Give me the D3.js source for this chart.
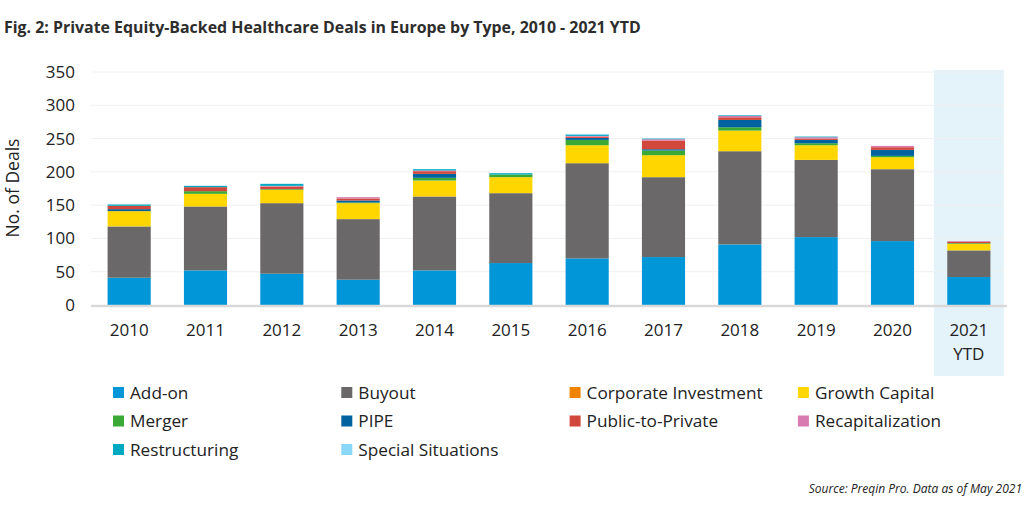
<!DOCTYPE html>
<html>
<head>
<meta charset="utf-8">
<script src="https://cdn.jsdelivr.net/npm/d3@7"></script>
<style>
  body { margin: 0; background: #fff; }
  svg { font-family: "Open Sans", sans-serif; }
</style>
</head>
<body>
<svg id="chart" width="1024" height="512"></svg>
<script>
// data
const years = ["2010", "2011", "2012", "2013", "2014", "2015", "2016", "2017", "2018", "2019", "2020", "2021 YTD"];
const types = ["Add-on", "Buyout", "Corporate Investment", "Growth Capital", "Merger", "PIPE",
    "Public-to-Private", "Recapitalization", "Restructuring", "Special Situations"];
const colors = ["#0096d8", "#6a6868", "#f08300", "#ffd600", "#3aa935", "#00629f",
    "#d2473b", "#d77bb0", "#00a9c2", "#8ad8f8"];

const addOn        = [41, 52, 47, 38, 52, 63, 70, 72, 91, 102, 96, 42];
const buyout       = [77, 96, 106, 91, 111, 105, 143, 120, 140, 116, 108, 40];
const corporate    = [0, 0, 0, 0, 0, 0, 0, 0, 0, 0, 0, 0];
const growth       = [23, 19, 20, 24, 24, 24, 27, 33, 31, 22, 18, 10];
const merger       = [0, 4, 1, 1, 4, 4, 8, 7, 5, 3, 2, 1];
const pipe         = [3, 0, 0, 3, 6, 0, 3, 2, 11, 5, 9, 0];
const pubToPrivate = [5, 6, 4, 3, 4, 0, 2, 13, 4, 2, 4, 2];
const recap        = [0, 0, 1, 2, 1, 0, 1, 2, 2, 2, 2, 1];
const restructure  = [2, 2, 3, 0, 2, 2, 2, 1, 1, 1, 0, 0];
const special      = [0, 0, 0, 0, 0, 0, 1, 0, 0, 0, 0, 0];

const yTicks = [0, 50, 100, 150, 200, 250, 300, 350];

const seriesValues = [addOn, buyout, corporate, growth, merger, pipe, pubToPrivate, recap, restructure, special];

// build rows for d3.stack
let rows = years.map((y, i) => {
    let row = { year: y };
    types.forEach((t, j) => row[t] = seriesValues[j][i]);
    return row;
});

let svg = d3.select("#chart");

let x = d3.scaleBand().domain(years).range([91, 1007]).paddingInner(0.435).paddingOuter(0.2175);
let y = d3.scaleLinear().domain([0, 350]).range([305, 72]);
let color = d3.scaleOrdinal().domain(types).range(colors);

// YTD shading
let ytd = years[years.length - 1];
let cx = x(ytd) + x.bandwidth() / 2;
svg.append("rect")
    .attr("x", cx - 35)
    .attr("y", 70)
    .attr("width", 70)
    .attr("height", 306)
    .attr("fill", "#e4f2fa");

// gridlines
svg.append("g")
    .selectAll("line")
    .data(yTicks.slice(1))
    .enter()
    .append("line")
    .attr("x1", 91)
    .attr("x2", 1004)
    .attr("y1", d => y(d))
    .attr("y2", d => y(d))
    .attr("stroke", "#f0f0f0")
    .attr("stroke-width", 1);

// y axis labels
let yAxis = svg.append("g")
    .attr("transform", "translate(91,0)")
    .call(d3.axisLeft(y).tickValues(yTicks).tickSize(0).tickPadding(16));
yAxis.select(".domain").remove();
yAxis.selectAll("text")
    .attr("font-family", "Open Sans")
    .attr("font-size", 17)
    .attr("fill", "#222");

svg.append("text")
    .attr("transform", "translate(19,188) rotate(-90)")
    .attr("text-anchor", "middle")
    .attr("font-size", 17.5)
    .attr("fill", "#222")
    .text("No. of Deals");

// bars
let stacked = d3.stack().keys(types)(rows);

svg.append("g")
    .selectAll("g")
    .data(stacked)
    .enter()
    .append("g")
    .attr("fill", d => color(d.key))
    .selectAll("rect")
    .data(d => d)
    .enter()
    .append("rect")
    .attr("x", d => x(d.data.year))
    .attr("y", d => y(d[1]))
    .attr("width", x.bandwidth())
    .attr("height", d => y(d[0]) - y(d[1]));

// x axis
svg.append("line")
    .attr("x1", 91)
    .attr("x2", 1007)
    .attr("y1", y(0) + 1)
    .attr("y2", y(0) + 1)
    .attr("stroke", "#d9d9d9")
    .attr("stroke-width", 2.5);

let xLabels = svg.append("g")
    .selectAll("text")
    .data(years)
    .enter()
    .append("text")
    .attr("x", d => x(d) + x.bandwidth() / 2)
    .attr("y", 336)
    .attr("text-anchor", "middle")
    .attr("font-size", 17)
    .attr("fill", "#222");
xLabels.each(function (d) {
    let parts = d.split(" ");
    d3.select(this).selectAll("tspan")
        .data(parts)
        .enter()
        .append("tspan")
        .attr("x", x(d) + x.bandwidth() / 2)
        .attr("dy", (p, i) => i == 0 ? 0 : 24)
        .text(p => p);
});

// legend
let legend = svg.append("g")
    .selectAll("g")
    .data(types)
    .enter()
    .append("g")
    .attr("transform", (d, i) => "translate(" + (113 + (i % 4) * 228.3) + "," + (387 + Math.floor(i / 4) * 28.5) + ")");
legend.append("rect")
    .attr("width", 11)
    .attr("height", 11)
    .attr("fill", d => color(d));
legend.append("text")
    .attr("x", 17)
    .attr("y", 11.5)
    .attr("font-size", 17.2)
    .attr("fill", "#222")
    .text(d => d);

// title and source
svg.append("text")
    .attr("x", 4)
    .attr("y", 33)
    .attr("font-size", 15.9)
    .attr("font-weight", "bold")
    .attr("fill", "#2d2d2d")
    .text("Fig. 2: Private Equity-Backed Healthcare Deals in Europe by Type, 2010 - 2021 YTD");

svg.append("text")
    .attr("x", 1022)
    .attr("y", 493)
    .attr("text-anchor", "end")
    .attr("font-size", 12)
    .attr("font-style", "italic")
    .attr("fill", "#222")
    .text("Source: Preqin Pro. Data as of May 2021");
</script>
</body>
</html>
